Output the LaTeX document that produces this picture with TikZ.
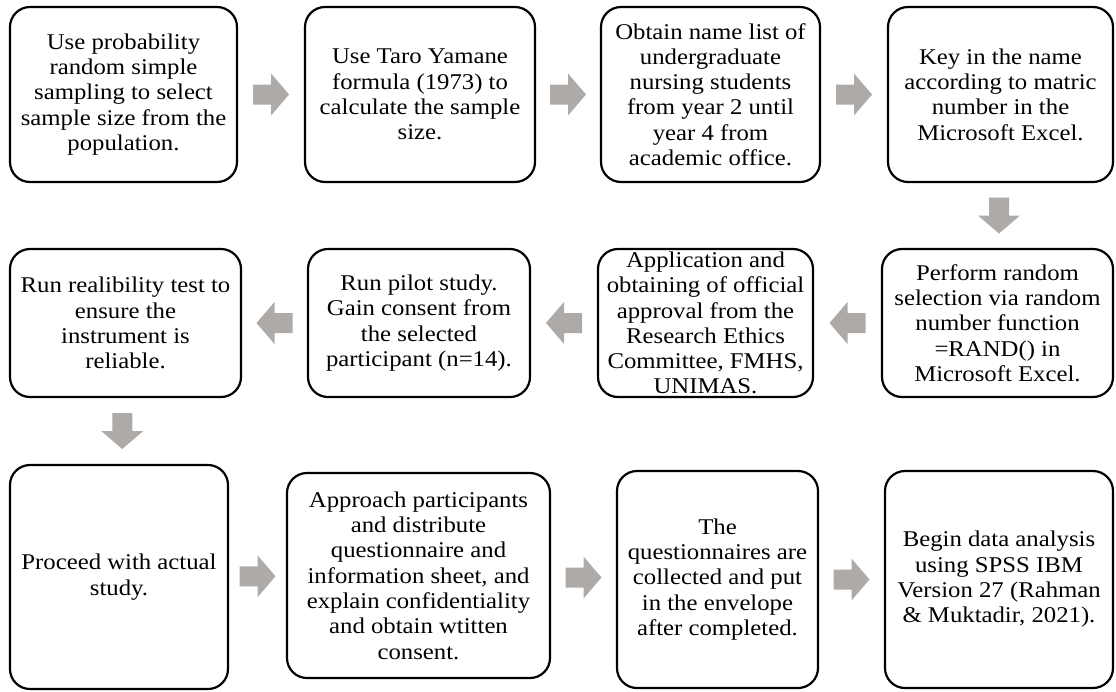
\documentclass[tikz,border=0pt]{standalone}
\usepackage{fontspec}
\setmainfont{Liberation Serif}[FakeStretch=1.1]
\usetikzlibrary{calc}
\definecolor{agray}{RGB}{173,170,168}
\tikzset{
  box/.style={draw=black, line width=2.2pt, rounded corners=20pt, align=center,
    inner sep=0pt, font=\fontsize{22.5}{25.3}\selectfont},
  rarrow/.pic={\fill[agray] (-18,-10) -- (0,-10) -- (0,-21) -- (18,0) -- (0,21) -- (0,10) -- (-18,10) -- cycle;},
  larrow/.pic={\fill[agray] (18,-10) -- (0,-10) -- (0,-21) -- (-18,0) -- (0,21) -- (0,10) -- (18,10) -- cycle;},
  darrow/.pic={\fill[agray] (-10,-18) -- (10,-18) -- (10,0) -- (21,0) -- (0,18) -- (-21,0) -- (-10,0) -- cycle;}
}
\begin{document}
\begin{tikzpicture}[x=1pt,y=-1pt]
\useasboundingbox (0,0) rectangle (1116,691);
% row 1
\node[box, minimum width=227pt, minimum height=175pt] (b1) at (123.5,94.5) {Use probability\\random simple\\sampling to select\\sample size from the\\population.};
\node[box, minimum width=230pt, minimum height=175pt] (b2) at (420,94.5) {Use Taro Yamane\\formula (1973) to\\calculate the sample\\size.};
\node[box, minimum width=219pt, minimum height=175pt] (b3) at (710.5,94.5) {Obtain name list of\\undergraduate\\nursing students\\from year 2 until\\year 4 from\\academic office.};
\node[box, minimum width=225pt, minimum height=175pt] (b4) at (1000.5,94.5) {Key in the name\\according to matric\\number in the\\Microsoft Excel.};
% row 2
\node[box, minimum width=231pt, minimum height=148pt] (b5) at (125.5,323) {Run realibility test to\\ensure the\\instrument is\\reliable.};
\node[box, minimum width=222pt, minimum height=148pt] (b6) at (419,323) {Run pilot study.\\Gain consent from\\the selected\\participant (n=14).};
\node[box, minimum width=215pt, minimum height=148pt] (b7) at (705.5,323) {Application and\\obtaining of official\\approval from the\\Research Ethics\\Committee, FMHS,\\UNIMAS.};
\node[box, minimum width=231pt, minimum height=148pt] (b8) at (997.5,323) {Perform random\\selection via random\\number function\\=RAND() in\\Microsoft Excel.};
% row 3
\node[box, minimum width=218pt, minimum height=224pt] (b9) at (119,577) {Proceed with actual\\study.};
\node[box, minimum width=263pt, minimum height=205pt] (b10) at (418.5,575.5) {Approach participants\\and distribute\\questionnaire and\\information sheet, and\\explain confidentiality\\and obtain wtitten\\consent.};
\node[box, minimum width=201pt, minimum height=217pt] (b11) at (717.5,579.5) {The\\questionnaires are\\collected and put\\in the envelope\\after completed.};
\node[box, minimum width=228pt, minimum height=217pt] (b12) at (999,579.5) {Begin data analysis\\using SPSS IBM\\Version 27 (Rahman\\\& Muktadir, 2021).};
% arrows
\pic at ($(b1.east)!0.5!(b2.west)$) {rarrow};
\pic at ($(b2.east)!0.5!(b3.west)$) {rarrow};
\pic at ($(b3.east)!0.5!(b4.west)$) {rarrow};
\pic at ($(b4.south)!0.5!(b8.north)$) {darrow};
\pic at ($(b8.west)!0.5!(b7.east)$) {larrow};
\pic at ($(b7.west)!0.5!(b6.east)$) {larrow};
\pic at ($(b6.west)!0.5!(b5.east)$) {larrow};
\pic at ($(b5.south)!0.5!(b9.north)$) {darrow};
\pic at ($(b9.east)!0.5!(b10.west)$) {rarrow};
\pic at ($(b10.east)!0.5!(b11.west)$) {rarrow};
\pic at ($(b11.east)!0.5!(b12.west)$) {rarrow};
\end{tikzpicture}
\end{document}
